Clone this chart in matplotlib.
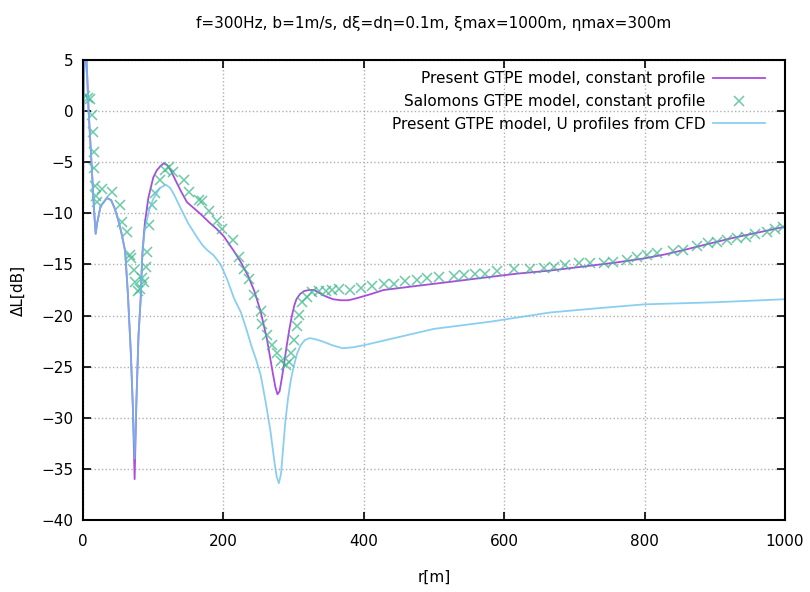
import matplotlib.pyplot as plt

# Present GTPE model, constant profile
r_const = [0, 1, 3, 5, 8, 12, 16, 18, 20, 25, 34, 40, 45, 50, 55, 60, 64, 68,
           71, 73.5, 76, 79, 82, 84.5, 88, 93, 100, 105, 110, 115, 120, 125,
           132, 140, 148, 158, 168, 180, 190, 200, 206, 215, 225, 235, 244,
           253, 262, 266, 270, 274, 277, 280, 283, 286, 290, 294, 297, 301,
           304, 309, 315, 322, 329, 337, 345, 356, 367, 378, 390, 410, 428,
           475, 523, 570, 618, 665, 713, 760, 800, 830, 855, 890, 926, 960,
           1000]
dl_const = [-9, 3, 5.5, 5, 0, -5, -10, -12, -11, -9.3, -8.5, -8.7, -9.5, -10.6,
            -12, -13.7, -18, -23.5, -29, -36, -28.5, -22, -18.5, -14, -11,
            -8.5, -6.5, -5.8, -5.4, -5.1, -5.3, -5.8, -6.8, -7.9, -8.9, -9.5,
            -10.1, -10.9, -11.5, -12.2, -12.8, -13.7, -14.8, -16.1, -17.6,
            -19.6, -22.3, -23.9, -25.5, -27.0, -27.7, -27.4, -26.2, -24.9,
            -23.0, -21.3, -20.2, -19.0, -18.4, -17.9, -17.6, -17.5, -17.5,
            -17.8, -18.1, -18.4, -18.5, -18.5, -18.3, -17.9, -17.5, -17.1,
            -16.7, -16.3, -15.9, -15.6, -15.2, -14.8, -14.4, -14.0, -13.6,
            -13.0, -12.4, -11.9, -11.3]

# Present GTPE model, U profiles from CFD
r_cfd = [0, 1, 3, 5, 8, 12, 16, 18, 20, 25, 34, 40, 45, 50, 55, 60, 64, 68,
         71, 73.5, 76, 79, 82, 84.5, 88, 95, 100, 105, 110, 118, 124, 130,
         139, 150, 163, 170, 177, 186, 196, 205, 215, 225, 233, 240, 247, 253,
         260, 267, 273, 276, 279, 282, 285, 288, 292, 296, 300, 305, 310, 316,
         323, 330, 340, 355, 370, 385, 400, 425, 450, 500, 580, 665, 730, 800,
         900, 1000]
dl_cfd = [-9, 3, 5.5, 5, 0, -5, -10, -12, -11, -9.3, -8.5, -8.7, -9.5, -10.6,
          -12, -13.7, -18, -23.5, -29, -34, -28.5, -22, -18.5, -14, -11.5,
          -9.5, -8.6, -8.0, -7.5, -7.2, -7.5, -8.2, -9.5, -11, -12.4, -13.1,
          -13.6, -14.1, -15, -16.4, -18.3, -19.7, -21.4, -23, -24.4, -25.8,
          -28.4, -31.3, -34.5, -35.8, -36.4, -35.5, -33, -30.5, -28.1, -26.3,
          -25, -23.7, -22.9, -22.4, -22.2, -22.3, -22.5, -22.9, -23.2, -23.1,
          -22.9, -22.5, -22.1, -21.3, -20.6, -19.7, -19.3, -18.9, -18.7, -18.4]

# Salomons GTPE model, constant profile
r_sal = [3, 7, 10.4, 12.8, 14.3, 15.2, 16.1, 17.6, 19, 19.5, 27, 41.4, 53.3,
         55.2, 62.9, 67.6, 69, 72.3, 74.7, 78, 81, 84, 86.7, 89, 91.4, 93.8,
         98.6, 103, 110, 117, 121.8, 128.6, 143.7, 151, 165, 170, 179.6, 191.5,
         198.6, 213, 222, 229.3, 236.4, 243.5, 253, 255.3, 262.5, 269.6, 275.8,
         281.5, 288.6, 293.3, 296.6, 300.4, 305, 307.6, 312.3, 319.5, 326.6,
         336, 345.6, 355, 364.5, 381, 395.5, 412, 428.5, 442.8, 459.3, 475.9,
         490, 506.7, 528, 542.2, 558.8, 573, 589.6, 613.3, 637, 656, 670.3,
         686.9, 705.8, 722.4, 741.4, 755.6, 774.6, 788.8, 803, 817.2, 841, 855,
         874, 890.6, 902.5, 916.7, 930.9, 945, 957, 973.6, 985.5, 997.3]
dl_sal = [1.5, 1.3, 1.2, -0.4, -2.0, -4.0, -5.6, -7.3, -8.3, -8.9, -7.6, -7.9,
          -9.2, -10.8, -11.8, -14.1, -14.4, -15.5, -16.7, -17.6, -17.4, -16.3,
          -16.7, -15.2, -13.8, -11.1, -9.2, -8.0, -6.7, -5.8, -5.5, -6.0, -6.7,
          -7.9, -8.7, -8.8, -9.8, -10.7, -11.5, -12.6, -14.3, -15.4, -16.4,
          -18.0, -19.6, -20.8, -21.9, -22.9, -23.7, -24.4, -24.8, -24.5, -23.7,
          -22.4, -21.0, -19.9, -18.7, -18.2, -17.7, -17.6, -17.6, -17.5, -17.4,
          -17.5, -17.3, -17.1, -16.9, -16.9, -16.6, -16.5, -16.3, -16.2, -16.1,
          -16.0, -15.9, -15.9, -15.6, -15.4, -15.4, -15.3, -15.2, -15.1, -14.9,
          -14.9, -14.9, -14.8, -14.6, -14.3, -14.1, -13.9, -13.7, -13.6, -13.2,
          -12.9, -12.8, -12.6, -12.4, -12.3, -12.0, -11.8, -11.5, -11.3]

fig = plt.figure(figsize=(8.1, 5.92), dpi=100)
ax = fig.add_axes([0.1025, 0.1216, 0.8667, 0.777])

ax.plot(r_const, dl_const, color='#a84ddc', lw=1.3,
        label='Present GTPE model, constant profile')
ax.plot(r_sal, dl_sal, ls='none', marker='x', ms=7, mew=1.1, color='#3bb98a',
        alpha=0.75, label='Salomons GTPE model, constant profile')
ax.plot(r_cfd, dl_cfd, color='#6ec2ee', lw=1.3, alpha=0.8,
        label='Present GTPE model, U profiles from CFD')

ax.set_xlim(0, 1000)
ax.set_ylim(-40, 5)
ax.set_xticks(range(0, 1001, 200))
ax.set_yticks(range(-40, 6, 5))
ax.tick_params(direction='in', top=True, right=True, length=6, width=1.2,
               labelsize=11)
ax.tick_params(axis='x', pad=10)
ax.tick_params(axis='y', pad=7)
for s in ax.spines.values():
    s.set_linewidth(1.5)
ax.grid(True, ls=':', color='#b0b0b0', lw=1)

ax.set_xlabel('r[m]', fontsize=11, labelpad=15)
ax.set_ylabel('ΔL[dB]', fontsize=11, labelpad=11)
ax.set_title('f=300Hz, b=1m/s, dξ=dη=0.1m, ξmax=1000m, ηmax=300m',
             fontsize=11, pad=23)

leg = ax.legend(loc='upper right', markerfirst=False, frameon=False,
                fontsize=11, handlelength=3.4, labelspacing=0.5,
                borderaxespad=0.2, handletextpad=0.5,
                bbox_to_anchor=(0.985, 0.995))
leg._legend_box.align = 'right'

fig.savefig('out.png', dpi=100)
